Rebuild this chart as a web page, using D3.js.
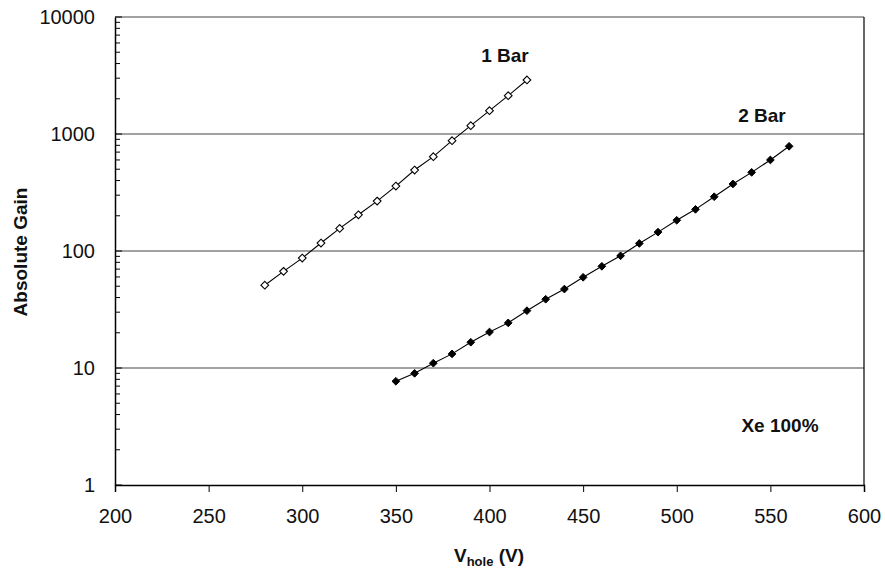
<!DOCTYPE html>
<html><head><meta charset="utf-8">
<script src="https://cdn.jsdelivr.net/npm/d3@7"></script>
<style>body{margin:0;background:#fff}svg text{font-family:"Liberation Sans",Arial,sans-serif}</style>
</head><body><svg id="c" width="885" height="568"></svg>
<script>
const voltage1 = [280,290,300,310,320,330,340,350,360,370,380,390,400,410,420];
const gain1 = [51,67,87,117,156,204,267,359,492,640,877,1178,1582,2125,2895];
const voltage2 = [350,360,370,380,390,400,410,420,430,440,450,460,470,480,490,500,510,520,530,540,550,560];
const gain2 = [7.7,9.0,11.0,13.2,16.6,20.3,24.3,30.9,38.7,47.3,59.6,74,91,116,145,183,227,291,374,470,600,785];
const xTicks = [200,250,300,350,400,450,500,550,600];
const yTicks = [1,10,100,1000,10000];

const svg = d3.select("#c");
const L=115, R=864, T=17, B=485;
const x = d3.scaleLinear().domain([200,600]).range([L,R]);
const y = d3.scaleLog().domain([1,10000]).range([B,T]);

// gridlines
svg.append("g").selectAll("line").data(yTicks.slice(1)).join("line")
  .attr("x1",L).attr("x2",R).attr("y1",d=>y(d)).attr("y2",d=>y(d))
  .attr("stroke","#444").attr("stroke-width",1);

// minor ticks on y
const minors=[];
for(let dec=1;dec<10000;dec*=10) for(let k=2;k<=9;k++) minors.push(dec*k);
svg.append("g").selectAll("line").data(minors).join("line")
  .attr("x1",L).attr("x2",L+5).attr("y1",d=>y(d)).attr("y2",d=>y(d))
  .attr("stroke","#000").attr("stroke-width",1);
svg.append("g").selectAll("line").data(yTicks).join("line")
  .attr("x1",L).attr("x2",L+7).attr("y1",d=>y(d)).attr("y2",d=>y(d))
  .attr("stroke","#000").attr("stroke-width",1);

// x axis
const xAxis = d3.axisBottom(x).tickValues(xTicks).tickSize(7).tickPadding(17).tickFormat(d3.format("d"));
const gx = svg.append("g").attr("transform",`translate(0,${B})`).call(xAxis);
gx.select(".domain").attr("stroke-width",1.5);
gx.selectAll("text").attr("font-size",20).attr("fill","#111");

// y axis labels
const yAxis = d3.axisLeft(y).tickValues(yTicks).tickSize(0).tickPadding(20).tickFormat(d3.format("d"));
const gy = svg.append("g").attr("transform",`translate(${L},0)`).call(yAxis);
gy.select(".domain").attr("stroke-width",1.5);
gy.selectAll("text").attr("font-size",20).attr("fill","#111");

// right border
svg.append("line").attr("x1",R).attr("x2",R).attr("y1",T).attr("y2",B).attr("stroke","#000").attr("stroke-width",1.2);

// lines
const line = d3.line().x(d=>x(d[0])).y(d=>y(d[1]));
const s1 = voltage1.map((v,i)=>[v,gain1[i]]);
const s2 = voltage2.map((v,i)=>[v,gain2[i]]);
svg.append("path").datum(s1).attr("d",line).attr("fill","none").attr("stroke","#000").attr("stroke-width",1.1);
svg.append("path").datum(s2).attr("d",line).attr("fill","none").attr("stroke","#000").attr("stroke-width",1.1);

const diamond = d3.symbol().type(d3.symbolDiamond2).size(38);
svg.append("g").selectAll("path").data(s1).join("path")
  .attr("d",diamond).attr("transform",d=>`translate(${x(d[0])},${y(d[1])})`)
  .attr("fill","#fff").attr("stroke","#000").attr("stroke-width",1.1);
svg.append("g").selectAll("path").data(s2).join("path")
  .attr("d",diamond).attr("transform",d=>`translate(${x(d[0])},${y(d[1])})`)
  .attr("fill","#000").attr("stroke","#000").attr("stroke-width",1);

// annotations
const ann = (t,cx,by)=>svg.append("text").attr("x",cx).attr("y",by).attr("text-anchor","middle")
  .attr("font-size",19).attr("font-weight","bold").attr("fill","#111").text(t);
ann("1 Bar",505,62);
ann("2 Bar",762,122);
ann("Xe 100%",780,432);

// axis titles
svg.append("text").attr("transform","translate(27,252) rotate(-90)").attr("text-anchor","middle")
  .attr("font-size",19).attr("font-weight","bold").attr("fill","#111").text("Absolute Gain");
const xt = svg.append("text").attr("x",489).attr("y",562).attr("text-anchor","middle")
  .attr("font-size",19).attr("font-weight","bold").attr("fill","#111");
xt.append("tspan").text("V");
xt.append("tspan").attr("font-size",13).attr("dy",4).text("hole");
xt.append("tspan").attr("dy",-4).text(" (V)");
</script></body></html>
